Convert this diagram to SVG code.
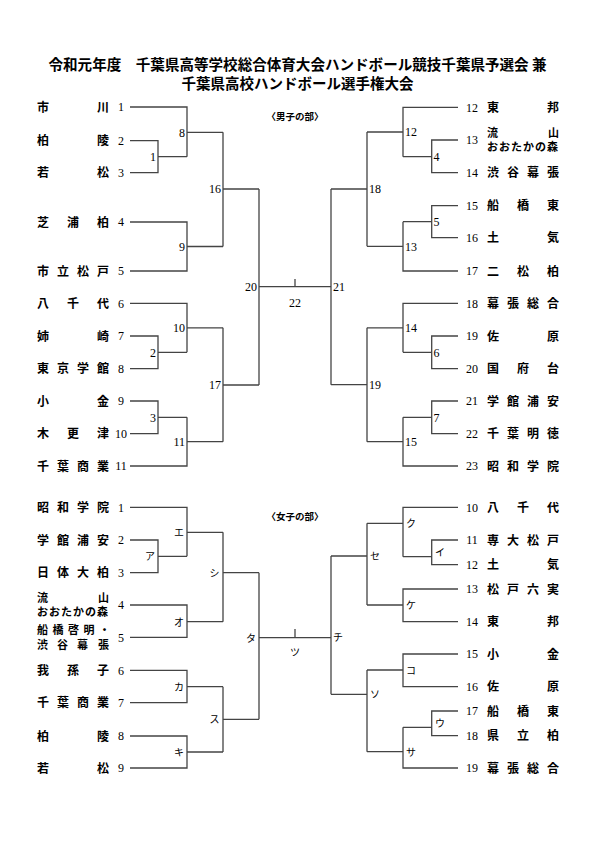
<svg xmlns="http://www.w3.org/2000/svg" width="595" height="841" viewBox="0 0 595 841">
<style>
text{fill:#000}
.tt{font-family:"Noto Sans CJK JP","Noto Sans",sans-serif;font-weight:700;font-size:14.5px}
.hd{font-family:"Noto Sans CJK JP",sans-serif;font-weight:700;font-size:9.5px}
.nm{font-family:"Noto Sans CJK JP",sans-serif;font-weight:700;font-size:12px}
.n2{font-family:"Noto Sans CJK JP",sans-serif;font-weight:700;font-size:11px}
.sd{font-family:"Liberation Serif",serif;font-size:12px;text-anchor:middle}
.mt{font-family:"Liberation Serif",serif;font-size:12px}
.kt{font-family:"Noto Sans CJK JP",sans-serif;font-size:10px}
.e{text-anchor:end}
.m{text-anchor:middle}
.ln{fill:none;stroke:#444;stroke-width:1.3}
</style>
<rect width="595" height="841" fill="#fff"/>
<g id="title">
<text class="tt m" x="297.5" y="70" textLength="498" lengthAdjust="spacingAndGlyphs">令和元年度　千葉県高等学校総合体育大会ハンドボール競技千葉県予選会 兼</text>
<text class="tt m" x="297.5" y="89" textLength="232" lengthAdjust="spacingAndGlyphs">千葉県高校ハンドボール選手権大会</text>
</g>
<text id="hd-men" class="hd m" x="295" y="119.5">〈男子の部〉</text>
<text id="hd-women" class="hd m" x="295" y="519.5">〈女子の部〉</text>

<g id="connectors" class="ln">
<path d="M130,107H187V156.7M187,132.3H223"/>
<path d="M130,140.7H158V172.7H130M158,156.7H187"/>
<path d="M130,222H187V271H130M187,246.5H223"/>
<path d="M223,132.3V246.5M223,189H259"/>
<path d="M130,303.3H187V352.3M187,327.8H223"/>
<path d="M130,336H158V368.7H130M158,352.3H187"/>
<path d="M130,401H158V433.7H130M158,417.3H187"/>
<path d="M187,417.3V466H130M187,441.7H223"/>
<path d="M223,327.8V441.7M223,385H259"/>
<path d="M259,189V385M259,286.7H331"/>
<path d="M295,279V286.7"/>
<path d="M458,107.3H403V156.7M403,132H367"/>
<path d="M458,140H431.7V172.7H458M431.7,156.7H403"/>
<path d="M458,205.7H431.7V237.7H458M431.7,221.7H403"/>
<path d="M403,221.7V271H458M403,246.3H367"/>
<path d="M367,132V246.3M367,189H331"/>
<path d="M458,303.3H403V352.3M403,327.8H367"/>
<path d="M458,336H431.7V368.7H458M431.7,352.3H403"/>
<path d="M458,401H431.7V433.7H458M431.7,417.3H403"/>
<path d="M403,417.3V466H458M403,441.7H367"/>
<path d="M367,327.8V441.7M367,384.7H331"/>
<path d="M331,189V384.7"/>

<path d="M130,507.3H187V556.3M187,532.3H223"/>
<path d="M130,540H158V572.7H130M158,556.3H187"/>
<path d="M130,605H187V637.3H130M187,621.7H223"/>
<path d="M223,532.3V621.7M223,572.7H259"/>
<path d="M130,670.3H187V702.7H130M187,686.7H223"/>
<path d="M130,736H187V768H130M187,752H223"/>
<path d="M223,686.7V752M223,719.3H259"/>
<path d="M259,572.7V719.3M259,637.7H331"/>
<path d="M295,629V637.7"/>
<path d="M458,507.3H403V556.7M403,523.3H367"/>
<path d="M458,540H431.7V564.7H458M431.7,556.7H403"/>
<path d="M458,589H403V621.7H458M403,605H367"/>
<path d="M367,523.3V605M367,556H331"/>
<path d="M458,654H403V686.7H458M403,670H367"/>
<path d="M458,711H431.7V735.7H458M431.7,727.3H403"/>
<path d="M403,727.3V768H458M403,751.7H367"/>
<path d="M367,670V751.7M367,694.3H331"/>
<path d="M331,556V694.3"/>
</g>

<!-- men left teams -->
<g id="m1"><text class="nm" x="37 97" y="111.5">市川</text><text class="sd" x="121" y="111.2">1</text></g>
<g id="m2"><text class="nm" x="37 97" y="145.2">柏陵</text><text class="sd" x="121" y="144.9">2</text></g>
<g id="m3"><text class="nm" x="37 97" y="177.2">若松</text><text class="sd" x="121" y="176.9">3</text></g>
<g id="m4"><text class="nm" x="37 67 97" y="226.5">芝浦柏</text><text class="sd" x="121" y="226.2">4</text></g>
<g id="m5"><text class="nm" x="37 57 77 97" y="275.5">市立松戸</text><text class="sd" x="121" y="275.2">5</text></g>
<g id="m6"><text class="nm" x="37 67 97" y="307.8">八千代</text><text class="sd" x="121" y="307.5">6</text></g>
<g id="m7"><text class="nm" x="37 97" y="340.5">姉崎</text><text class="sd" x="121" y="340.2">7</text></g>
<g id="m8t"><text class="nm" x="37 57 77 97" y="373.2">東京学館</text><text class="sd" x="121" y="372.9">8</text></g>
<g id="m9t"><text class="nm" x="37 97" y="405.5">小金</text><text class="sd" x="121" y="405.2">9</text></g>
<g id="m10t"><text class="nm" x="37 67 97" y="438.2">木更津</text><text class="sd" x="121" y="437.9">10</text></g>
<g id="m11t"><text class="nm" x="37 57 77 97" y="470.5">千葉商業</text><text class="sd" x="121" y="470.2">11</text></g>
<!-- men right teams -->
<g id="m12t"><text class="sd" x="472" y="111.5">12</text><text class="nm" x="487 547" y="111.8">東邦</text></g>
<g id="m13t"><text class="sd" x="472" y="144.2">13</text><text class="n2" x="487 548" y="136.5">流山</text><text class="n2" x="487" y="151" textLength="71" lengthAdjust="spacing">おおたかの森</text></g>
<g id="m14t"><text class="sd" x="472" y="176.9">14</text><text class="nm" x="487 507 527 547" y="177.2">渋谷幕張</text></g>
<g id="m15t"><text class="sd" x="472" y="209.9">15</text><text class="nm" x="487 517 547" y="210.2">船橋東</text></g>
<g id="m16t"><text class="sd" x="472" y="241.9">16</text><text class="nm" x="487 547" y="242.2">土気</text></g>
<g id="m17t"><text class="sd" x="472" y="275.2">17</text><text class="nm" x="487 517 547" y="275.5">二松柏</text></g>
<g id="m18t"><text class="sd" x="472" y="307.5">18</text><text class="nm" x="487 507 527 547" y="307.8">幕張総合</text></g>
<g id="m19t"><text class="sd" x="472" y="340.2">19</text><text class="nm" x="487 547" y="340.5">佐原</text></g>
<g id="m20t"><text class="sd" x="472" y="372.9">20</text><text class="nm" x="487 517 547" y="373.2">国府台</text></g>
<g id="m21t"><text class="sd" x="472" y="405.2">21</text><text class="nm" x="487 507 527 547" y="405.5">学館浦安</text></g>
<g id="m22t"><text class="sd" x="472" y="437.9">22</text><text class="nm" x="487 507 527 547" y="438.2">千葉明徳</text></g>
<g id="m23t"><text class="sd" x="472" y="470.2">23</text><text class="nm" x="487 507 527 547" y="470.5">昭和学院</text></g>

<!-- men matches -->
<g id="mm8"><text class="mt e" x="185" y="136.5">8</text></g>
<g id="mm1"><text class="mt e" x="156" y="160.9">1</text></g>
<g id="mm9"><text class="mt e" x="185" y="250.7">9</text></g>
<g id="mm16"><text class="mt e" x="221" y="193.2">16</text></g>
<g id="mm10"><text class="mt e" x="185" y="332">10</text></g>
<g id="mm2"><text class="mt e" x="156" y="356.5">2</text></g>
<g id="mm3"><text class="mt e" x="156" y="421.5">3</text></g>
<g id="mm11"><text class="mt e" x="185" y="445.9">11</text></g>
<g id="mm17"><text class="mt e" x="221" y="389.2">17</text></g>
<g id="mm20"><text class="mt e" x="257" y="290.9">20</text></g>
<g id="mm12"><text class="mt" x="405" y="136.2">12</text></g>
<g id="mm4"><text class="mt" x="433.5" y="160.9">4</text></g>
<g id="mm5"><text class="mt" x="433.5" y="225.9">5</text></g>
<g id="mm13"><text class="mt" x="405" y="250.5">13</text></g>
<g id="mm18"><text class="mt" x="369" y="193.2">18</text></g>
<g id="mm14"><text class="mt" x="405" y="332">14</text></g>
<g id="mm6"><text class="mt" x="433.5" y="356.5">6</text></g>
<g id="mm7"><text class="mt" x="433.5" y="421.5">7</text></g>
<g id="mm15"><text class="mt" x="405" y="445.9">15</text></g>
<g id="mm19"><text class="mt" x="369" y="388.9">19</text></g>
<g id="mm21"><text class="mt" x="333" y="290.9">21</text></g>
<g id="mm22"><text class="mt m" x="295" y="307.2">22</text></g>

<!-- women left teams -->
<g id="w1"><text class="nm" x="37 57 77 97" y="511.8">昭和学院</text><text class="sd" x="121" y="511.5">1</text></g>
<g id="w2"><text class="nm" x="37 57 77 97" y="544.5">学館浦安</text><text class="sd" x="121" y="544.2">2</text></g>
<g id="w3"><text class="nm" x="37 57 77 97" y="577.2">日体大柏</text><text class="sd" x="121" y="576.9">3</text></g>
<g id="w4"><text class="n2" x="37 98" y="601.5">流山</text><text class="n2" x="37" y="616" textLength="71" lengthAdjust="spacing">おおたかの森</text><text class="sd" x="121" y="609.2">4</text></g>
<g id="w5"><text class="n2" x="37 52.5 68 83.5 99" y="634">船橋啓明・</text><text class="n2" x="37 57 77 98" y="648.5">渋谷幕張</text><text class="sd" x="121" y="641.5">5</text></g>
<g id="w6"><text class="nm" x="37 67 97" y="674.8">我孫子</text><text class="sd" x="121" y="674.5">6</text></g>
<g id="w7"><text class="nm" x="37 57 77 97" y="707.2">千葉商業</text><text class="sd" x="121" y="706.9">7</text></g>
<g id="w8"><text class="nm" x="37 97" y="740.5">柏陵</text><text class="sd" x="121" y="740.2">8</text></g>
<g id="w9"><text class="nm" x="37 97" y="772.5">若松</text><text class="sd" x="121" y="772.2">9</text></g>
<!-- women right teams -->
<g id="w10"><text class="sd" x="472" y="511.5">10</text><text class="nm" x="487 517 547" y="511.8">八千代</text></g>
<g id="w11"><text class="sd" x="472" y="544.2">11</text><text class="nm" x="487 507 527 547" y="544.5">専大松戸</text></g>
<g id="w12"><text class="sd" x="472" y="568.9">12</text><text class="nm" x="487 547" y="569.2">土気</text></g>
<g id="w13"><text class="sd" x="472" y="593.2">13</text><text class="nm" x="487 507 527 547" y="593.5">松戸六実</text></g>
<g id="w14"><text class="sd" x="472" y="625.9">14</text><text class="nm" x="487 547" y="626.2">東邦</text></g>
<g id="w15"><text class="sd" x="472" y="658.2">15</text><text class="nm" x="487 547" y="658.5">小金</text></g>
<g id="w16"><text class="sd" x="472" y="690.9">16</text><text class="nm" x="487 547" y="691.2">佐原</text></g>
<g id="w17"><text class="sd" x="472" y="715.2">17</text><text class="nm" x="487 517 547" y="715.5">船橋東</text></g>
<g id="w18"><text class="sd" x="472" y="739.9">18</text><text class="nm" x="487 517 547" y="740.2">県立柏</text></g>
<g id="w19"><text class="sd" x="472" y="772.2">19</text><text class="nm" x="487 507 527 547" y="772.5">幕張総合</text></g>

<!-- women matches -->
<g id="wE"><text class="kt e" x="184" y="536.1">エ</text></g>
<g id="wA"><text class="kt e" x="155" y="560.1">ア</text></g>
<g id="wShi"><text class="kt e" x="219.5" y="577">シ</text></g>
<g id="wO"><text class="kt e" x="184" y="625.5">オ</text></g>
<g id="wTa"><text class="kt e" x="256" y="641.5">タ</text></g>
<g id="wKa"><text class="kt e" x="184" y="690.5">カ</text></g>
<g id="wKi"><text class="kt e" x="184" y="755.8">キ</text></g>
<g id="wSu"><text class="kt e" x="219.5" y="723.1">ス</text></g>
<g id="wTsu"><text class="kt m" x="295" y="655.8">ツ</text></g>
<g id="wKu"><text class="kt" x="406" y="527.1">ク</text></g>
<g id="wI"><text class="kt" x="435" y="555.5">イ</text></g>
<g id="wSe"><text class="kt" x="370" y="559.8">セ</text></g>
<g id="wKe"><text class="kt" x="406" y="608.8">ケ</text></g>
<g id="wChi"><text class="kt" x="333" y="641.3">チ</text></g>
<g id="wKo"><text class="kt" x="406" y="673.8">コ</text></g>
<g id="wSo"><text class="kt" x="370" y="698.1">ソ</text></g>
<g id="wU"><text class="kt" x="435" y="726.8">ウ</text></g>
<g id="wSa"><text class="kt" x="406" y="755.5">サ</text></g>
</svg>
